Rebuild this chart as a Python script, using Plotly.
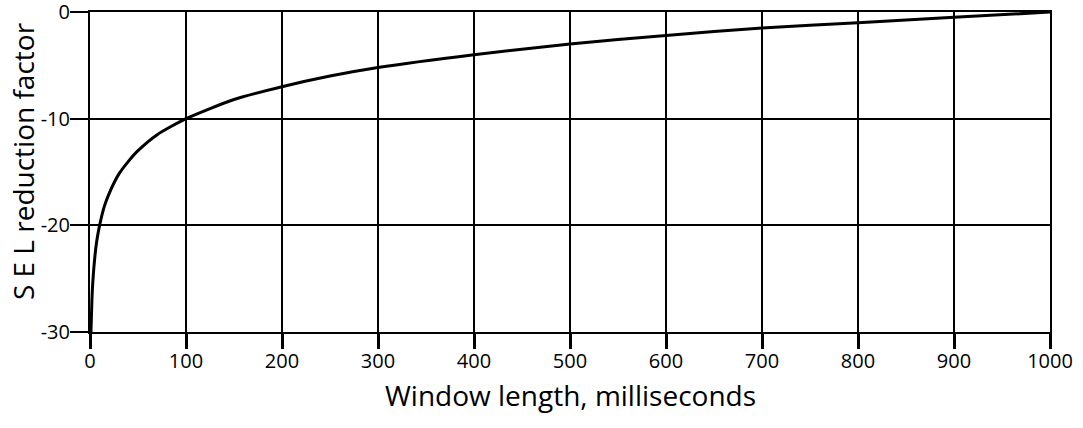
import plotly.graph_objects as go

window_ms = [1, 2, 3, 5, 7, 10, 15, 20, 30, 40, 50, 70, 100, 150, 200, 250, 300,
             400, 500, 600, 700, 800, 900, 1000]
sel_reduction = [-30, -27, -25.2, -23, -21.5, -20, -18.2, -17, -15.2, -14, -13, -11.5,
                 -10, -8.2, -7, -6, -5.2, -4, -3, -2.2, -1.5, -1, -0.5, 0]
x_ticks = [0, 100, 200, 300, 400, 500, 600, 700, 800, 900, 1000]
y_ticks = [0, -10, -20, -30]
y_tick_labels = ["0", "-10", "-20", "-30"]
x_title = "Window length, milliseconds"
y_title = "S E L reduction factor"

font = "Open Sans"
fig = go.Figure()
fig.add_trace(go.Scatter(x=window_ms, y=sel_reduction, mode="lines",
                         line=dict(color="black", width=3, shape="spline", smoothing=0.6),
                         showlegend=False, hoverinfo="skip"))
fig.update_layout(
    width=1083, height=428,
    margin=dict(l=90, r=33, t=12, b=96),
    paper_bgcolor="white", plot_bgcolor="white",
    font=dict(family=font, color="black"),
)
fig.update_xaxes(range=[0, 1000], tickvals=x_ticks, ticks="outside", ticklen=15, tickwidth=3,
                 tickcolor="black", showgrid=True, gridcolor="black", gridwidth=2,
                 zeroline=False, showline=True, linecolor="black", linewidth=2, mirror=True,
                 automargin=False, ticklabeloverflow="allow", ticklabelstandoff=-5,
                 tickfont=dict(size=20, family=font))
fig.update_yaxes(range=[-30, 0], tickvals=y_ticks, ticktext=y_tick_labels,
                 ticks="outside", ticklen=18, tickwidth=2,
                 tickcolor="black", showgrid=True, gridcolor="black", gridwidth=2,
                 zeroline=False, showline=True, linecolor="black", linewidth=2, mirror=True,
                 automargin=False, ticklabeloverflow="allow", ticklabelstandoff=-4,
                 tickfont=dict(size=20, family=font))
fig.add_annotation(text=x_title, xref="paper", yref="paper", x=0.5, y=-0.197,
                   xanchor="center", yanchor="middle", showarrow=False,
                   font=dict(size=28, family=font, color="black"))
fig.add_annotation(text=y_title, xref="paper", yref="paper", x=-0.0698, y=0.534,
                   xanchor="center", yanchor="middle", showarrow=False, textangle=-90,
                   font=dict(size=28, family=font, color="black"))
fig.write_html("out.html", config={"displayModeBar": False},
               post_script="document.body.style.margin='0';")
